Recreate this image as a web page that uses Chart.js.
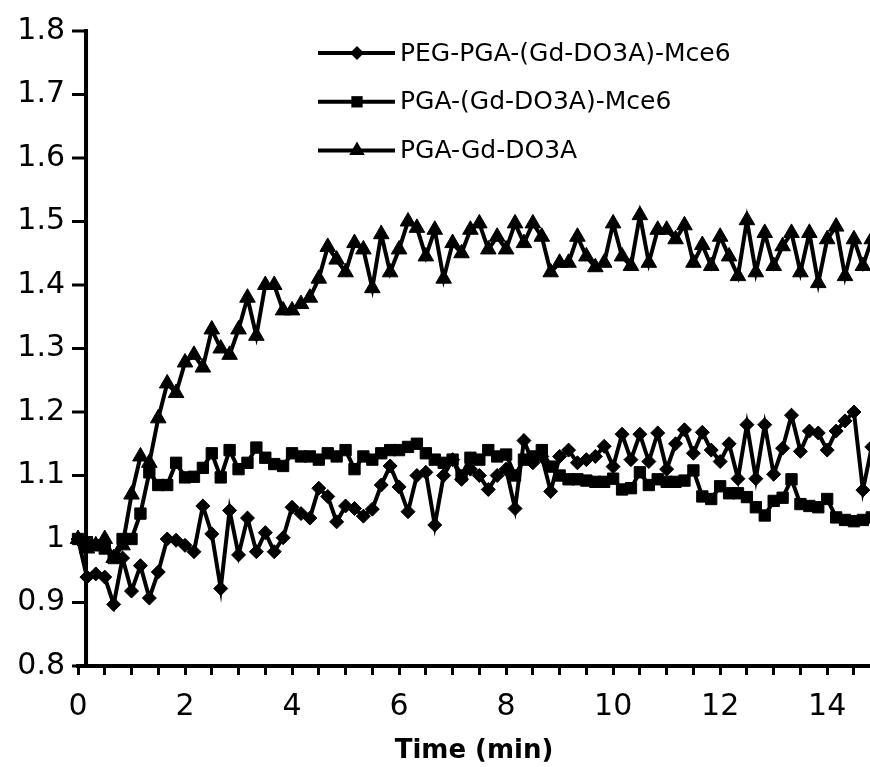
<!DOCTYPE html>
<html>
<head>
<meta charset="utf-8">
<script src="https://cdn.jsdelivr.net/npm/chart.js@4.4.1/dist/chart.umd.min.js"></script>
<style>
  html, body { margin: 0; padding: 0; background: #fff; }
  #relaxCurve { display: block; }
</style>
</head>
<body>
<canvas id="relaxCurve" width="870" height="767"></canvas>
<script>
// time axis (min), one reading every 10 s
const timeMin = [
  0, 0.167, 0.333, 0.5, 0.667, 0.833,
  1, 1.167, 1.333, 1.5, 1.667, 1.833,
  2, 2.167, 2.333, 2.5, 2.667, 2.833,
  3, 3.167, 3.333, 3.5, 3.667, 3.833,
  4, 4.167, 4.333, 4.5, 4.667, 4.833,
  5, 5.167, 5.333, 5.5, 5.667, 5.833,
  6, 6.167, 6.333, 6.5, 6.667, 6.833,
  7, 7.167, 7.333, 7.5, 7.667, 7.833,
  8, 8.167, 8.333, 8.5, 8.667, 8.833,
  9, 9.167, 9.333, 9.5, 9.667, 9.833,
  10, 10.167, 10.333, 10.5, 10.667, 10.833,
  11, 11.167, 11.333, 11.5, 11.667, 11.833,
  12, 12.167, 12.333, 12.5, 12.667, 12.833,
  13, 13.167, 13.333, 13.5, 13.667, 13.833,
  14, 14.167, 14.333, 14.5, 14.667, 14.833
]

const pegPgaMce6 = [
  1.0, 0.94, 0.945, 0.94, 0.897, 0.97,
  0.918, 0.958, 0.907, 0.948, 1.0, 0.998,
  0.99, 0.98, 1.052, 1.008, 0.922, 1.045,
  0.975, 1.033, 0.98, 1.01, 0.98, 1.002,
  1.05, 1.04, 1.033, 1.08, 1.067, 1.027,
  1.052, 1.048, 1.036, 1.047, 1.085, 1.115,
  1.082, 1.043, 1.1, 1.105, 1.022, 1.1,
  1.125, 1.094, 1.11, 1.1, 1.078, 1.1,
  1.11, 1.048, 1.155, 1.12, 1.13, 1.075,
  1.13, 1.14, 1.12, 1.125, 1.13, 1.146,
  1.114, 1.165, 1.125, 1.165, 1.122, 1.167,
  1.11, 1.15, 1.172, 1.135, 1.168, 1.14,
  1.122, 1.15, 1.095, 1.18, 1.095, 1.18,
  1.102, 1.143, 1.195, 1.138, 1.17, 1.167,
  1.14, 1.17, 1.186, 1.2, 1.077, 1.145
]

const pgaMce6 = [
  1.0, 0.995, 0.99, 0.985, 0.97, 1.0,
  1.0, 1.04, 1.105, 1.085, 1.085, 1.12,
  1.097, 1.098, 1.112, 1.135, 1.097, 1.14,
  1.11, 1.12, 1.144, 1.128, 1.118, 1.115,
  1.135, 1.13, 1.13, 1.125, 1.135, 1.13,
  1.14, 1.11, 1.13, 1.125, 1.135, 1.14,
  1.14, 1.145, 1.15, 1.135, 1.125, 1.12,
  1.125, 1.1, 1.128, 1.125, 1.14, 1.13,
  1.133, 1.1, 1.125, 1.13, 1.14, 1.114,
  1.1, 1.094, 1.094, 1.092, 1.09, 1.09,
  1.095, 1.078, 1.08, 1.105, 1.085, 1.094,
  1.09, 1.09, 1.092, 1.108, 1.067, 1.063,
  1.083, 1.072, 1.072, 1.066, 1.05, 1.037,
  1.06, 1.065, 1.094, 1.055, 1.052, 1.05,
  1.063, 1.034, 1.03, 1.028, 1.03, 1.034
]

const pgaGdDo3a = [
  1.0, 0.985, 0.99, 1.0, 0.97, 0.99,
  1.07, 1.13, 1.12, 1.19, 1.245, 1.23,
  1.278, 1.29, 1.27, 1.33, 1.3, 1.29,
  1.33, 1.38, 1.32, 1.4, 1.4, 1.36,
  1.36, 1.37, 1.38, 1.41, 1.46, 1.44,
  1.42, 1.466, 1.456, 1.395, 1.48, 1.42,
  1.456, 1.5, 1.49, 1.445, 1.487, 1.41,
  1.466, 1.45, 1.487, 1.497, 1.456, 1.476,
  1.456, 1.497, 1.466, 1.497, 1.476, 1.42,
  1.435, 1.435, 1.476, 1.445, 1.428, 1.435,
  1.497, 1.445, 1.43, 1.51, 1.435, 1.487,
  1.487, 1.472, 1.494, 1.435, 1.463, 1.43,
  1.476, 1.445, 1.414, 1.502, 1.42, 1.482,
  1.43, 1.461, 1.482, 1.42, 1.482, 1.403,
  1.472, 1.492, 1.414, 1.472, 1.43, 1.472
]

const seriesNames = ["PEG-PGA-(Gd-DO3A)-Mce6", "PGA-(Gd-DO3A)-Mce6", "PGA-Gd-DO3A"]
const seriesMarkers = ["rectRot", "rect", "triangle"]
const markerSize = [7, 8, 9]

const FONT = '"DejaVu Sans", Verdana, sans-serif'

function toPoints(values) {
    return values.map((v, i) => ({ x: timeMin[i], y: v }))
}

// same shapes as chart.js point styles, used for the legend samples
function drawMarker(ctx, style, x, y, r) {
    ctx.beginPath()
    if (style === "rectRot") {
        ctx.moveTo(x, y - r)
        ctx.lineTo(x + r, y)
        ctx.lineTo(x, y + r)
        ctx.lineTo(x - r, y)
    } else if (style === "rect") {
        const s = r * Math.SQRT1_2
        ctx.rect(x - s, y - s, 2 * s, 2 * s)
    } else {
        ctx.moveTo(x, y - r)
        ctx.lineTo(x + r * Math.sin(Math.PI * 2 / 3), y - r * Math.cos(Math.PI * 2 / 3))
        ctx.lineTo(x - r * Math.sin(Math.PI * 2 / 3), y - r * Math.cos(Math.PI * 2 / 3))
    }
    ctx.closePath()
    ctx.fill()
}

// the vertical axis crosses a little right of t = 0, like the original
const yAxisLine = {
    id: "yAxisLine",
    beforeDatasetsDraw(chart) {
        const ctx = chart.ctx
        const xs = chart.scales.x
        const ys = chart.scales.y
        const ax = xs.getPixelForValue(0.15)
        ctx.save()
        ctx.strokeStyle = "#000"
        ctx.lineWidth = 4
        ctx.beginPath()
        ctx.moveTo(ax, ys.top - 2)
        ctx.lineTo(ax, ys.bottom + 2)
        ctx.stroke()
        ctx.lineWidth = 3
        for (const t of ys.ticks) {
            const y = ys.getPixelForValue(t.value)
            ctx.beginPath()
            ctx.moveTo(ax - 14, y)
            ctx.lineTo(ax, y)
            ctx.stroke()
        }
        ctx.restore()
    }
}

const lineLegend = {
    id: "lineLegend",
    afterDraw(chart) {
        const ctx = chart.ctx
        ctx.save()
        chart.data.datasets.forEach((ds, i) => {
            const y = 53 + i * 48.8
            ctx.strokeStyle = "#000"
            ctx.fillStyle = "#000"
            ctx.lineWidth = 4
            ctx.beginPath()
            ctx.moveTo(318, y)
            ctx.lineTo(395, y)
            ctx.stroke()
            drawMarker(ctx, ds.pointStyle, 357, y, ds.pointRadius)
            ctx.font = "25px " + FONT
            ctx.textBaseline = "middle"
            ctx.textAlign = "left"
            ctx.fillText(ds.label, 400, y + 1)
        })
        ctx.restore()
    }
}

const seriesValues = [pegPgaMce6, pgaMce6, pgaGdDo3a]

new Chart(document.getElementById("relaxCurve"), {
    type: "line",
    data: {
        datasets: seriesValues.map((vals, i) => ({
            label: seriesNames[i],
            data: toPoints(vals),
            borderColor: "#000",
            backgroundColor: "#000",
            borderWidth: 4,
            pointStyle: seriesMarkers[i],
            pointRadius: markerSize[i],
            pointBackgroundColor: "#000",
            pointBorderColor: "#000",
            pointBorderWidth: 1,
            tension: 0,
            clip: false
        }))
    },
    options: {
        responsive: false,
        animation: false,
        devicePixelRatio: 1,
        layout: { autoPadding: false, padding: { top: 27, left: 0, right: 0, bottom: 0 } },
        plugins: {
            legend: { display: false },
            tooltip: { enabled: false }
        },
        scales: {
            x: {
                type: "linear",
                min: 0,
                max: 14.8,
                afterFit(scale) { scale.height = 101 },
                border: { display: true, color: "#000", width: 4 },
                grid: { drawOnChartArea: false, tickLength: 9, tickWidth: 3, tickColor: "#000" },
                ticks: {
                    stepSize: 0.5,
                    includeBounds: false,
                    autoSkip: false,
                    maxRotation: 0,
                    minRotation: 0,
                    padding: 14,
                    color: "#000",
                    font: { family: FONT, size: 30 },
                    callback: (v) => (Math.abs(v % 2) < 1e-6 ? String(v) : "")
                },
                title: {
                    display: true,
                    text: "Time (min)",
                    color: "#000",
                    font: { family: FONT, size: 26, weight: "bold" },
                    padding: { top: 0, bottom: 0 }
                }
            },
            y: {
                min: 0.8,
                max: 1.8,
                afterFit(scale) { scale.width = 78 },
                border: { display: false },
                grid: { display: false, drawTicks: false },
                ticks: {
                    stepSize: 0.1,
                    padding: 13,
                    color: "#000",
                    font: { family: FONT, size: 30 },
                    callback: (v) => String(Math.round(v * 10) / 10)
                }
            }
        }
    },
    plugins: [yAxisLine, lineLegend]
})
</script>
</body>
</html>
